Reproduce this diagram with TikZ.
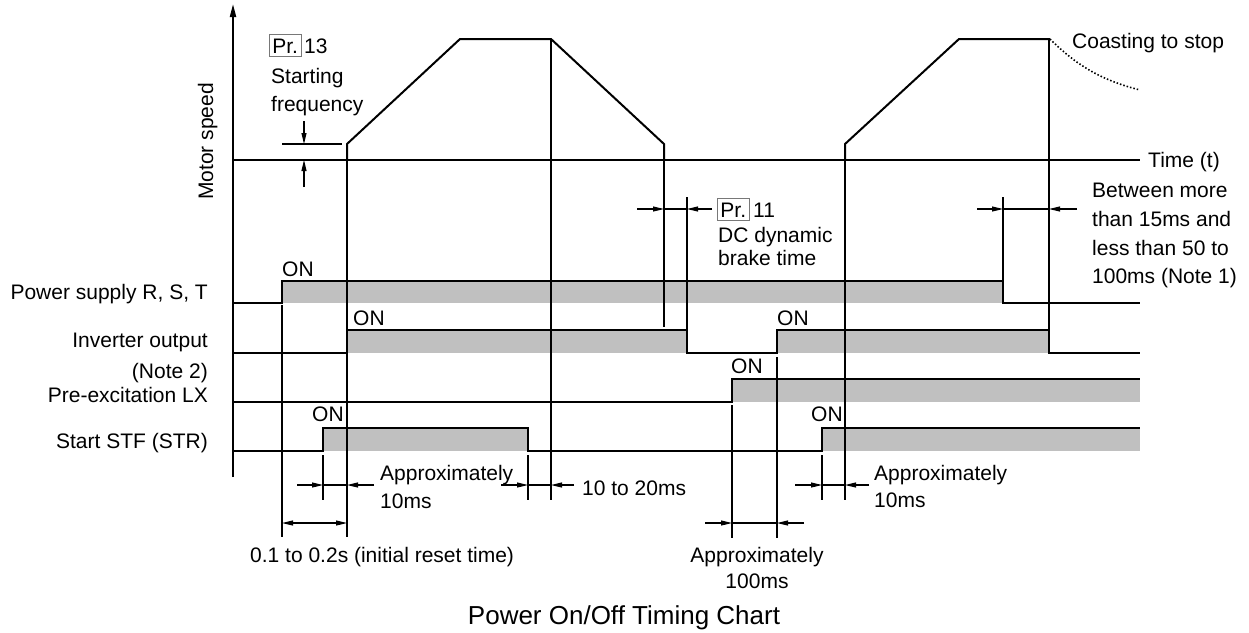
\documentclass[tikz,border=0pt]{standalone}
\usepackage{fontspec}
\setmainfont{Liberation Sans}
\usetikzlibrary{arrows.meta}
\definecolor{bargray}{RGB}{192,192,192}
\definecolor{boxgray}{RGB}{120,120,120}
\tikzset{
  sig/.style={line width=2pt, line join=miter},
  refline/.style={line width=1.1pt},
  dimarrow/.style={line width=1.1pt, -{Triangle[length=11pt,width=5pt]}},
  lbl/.style={font=\fontsize{21}{25}\selectfont, inner sep=0pt},
  ttl/.style={font=\fontsize{26}{30}\selectfont, inner sep=0pt},
  prbox/.style={lbl, draw=boxgray, line width=0.8pt, inner xsep=3pt, inner ysep=3.5pt, text height=15pt, text depth=0pt},
  coast/.style={line width=1.6pt, dash pattern=on 1.5pt off 2pt}
}
\begin{document}
\begin{tikzpicture}[x=1pt,y=-1pt]
\useasboundingbox (0,0) rectangle (1249,632);

% ---------- gray bars ----------
\fill[bargray] (282,281) rectangle (1003,303);
\fill[bargray] (347,330) rectangle (687,353);
\fill[bargray] (777,330) rectangle (1049,353);
\fill[bargray] (732,379) rectangle (1140,402);
\fill[bargray] (323,428) rectangle (528,451);
\fill[bargray] (822,428) rectangle (1140,451);

% ---------- reference (thin) lines ----------
\draw[refline] (282,305) -- (282,537);
\draw[refline] (347,160) -- (347,537);
\draw[refline] (323,455) -- (323,500);
\draw[refline] (528,455) -- (528,500);
\draw[refline] (551,40) -- (551,500);
\draw[refline] (664,160) -- (664,327);
\draw[refline] (687,197) -- (687,330);
\draw[refline] (732,405) -- (732,538);
\draw[refline] (777,357) -- (777,538);
\draw[refline] (822,455) -- (822,500);
\draw[refline] (845,160) -- (845,500);
\draw[refline] (1003,197) -- (1003,281);
\draw[refline] (1049,40) -- (1049,330);

% ---------- axes ----------
\draw[line width=2pt, -{Triangle[length=13pt,width=6pt]}] (233,477) -- (233,4);
\draw[sig] (233,160) -- (1140,160);
\node[lbl, anchor=base west] (timet) at (1148,167) {Time (t)};
\node[lbl, rotate=90, anchor=base] (mspeed) at (213,141.5) {Motor speed};

% ---------- speed profile ----------
\draw[sig] (347,160) -- (347,144) -- (460,39) -- (551,39) -- (664,144) -- (664,160);
\draw[sig] (845,160) -- (845,144) -- (959,39) -- (1050,39);
\draw[coast] (1050,39) .. controls (1075,64) and (1100,80) .. (1140,90);
\node[lbl, anchor=base west] (coasting) at (1072,48) {Coasting to stop};

% starting frequency
\draw[refline] (282,144) -- (342,144);
\draw[dimarrow] (304,121) -- (304,144);
\draw[dimarrow] (304,187) -- (304,160);
\node[prbox, anchor=base west] (pr13) at (269,53) {Pr.};
\node[lbl, anchor=base west] (n13) at (304,53) {13};
\node[lbl, anchor=base west] (starting) at (271,83) {Starting};
\node[lbl, anchor=base west] (frequency) at (271,111) {frequency};

% ---------- signals ----------
\draw[sig] (233,303) -- (282,303) -- (282,281) -- (1003,281) -- (1003,303) -- (1140,303);
\draw[sig] (233,353) -- (347,353) -- (347,330) -- (687,330) -- (687,353) -- (777,353) -- (777,330) -- (1049,330) -- (1049,353) -- (1140,353);
\draw[sig] (233,402) -- (732,402) -- (732,379) -- (1140,379);
\draw[sig] (233,451) -- (323,451) -- (323,428) -- (528,428) -- (528,451) -- (822,451) -- (822,428) -- (1140,428);

\node[lbl, anchor=base west] (on1) at (282,276) {ON};
\node[lbl, anchor=base west] (on2) at (353,325) {ON};
\node[lbl, anchor=base west] (on3) at (777,325) {ON};
\node[lbl, anchor=base west] (on4) at (731,373) {ON};
\node[lbl, anchor=base west] (on5) at (312,421) {ON};
\node[lbl, anchor=base west] (on6) at (811,421) {ON};

\node[lbl, anchor=base east] (lpower) at (208,299) {Power supply R, S, T};
\node[lbl, anchor=base east] (linv) at (208,347) {Inverter output};
\node[lbl, anchor=base east] (lnote2) at (208,378) {(Note 2)};
\node[lbl, anchor=base east] (lpre) at (208,402) {Pre-excitation LX};
\node[lbl, anchor=base east] (lstf) at (208,448) {Start STF (STR)};

% ---------- dimensions ----------
% Pr.11
\draw[refline] (664,209) -- (687,209);
\draw[dimarrow] (637,209) -- (664,209);
\draw[dimarrow] (712,209) -- (687,209);
\node[prbox, anchor=base west] (pr11) at (717,217) {Pr.};
\node[lbl, anchor=base west] (n11) at (753,217) {11};
\node[lbl, anchor=base west] (dcdyn) at (718,242) {DC dynamic};
\node[lbl, anchor=base west] (brake) at (718,265) {brake time};

% Note 1
\draw[refline] (1003,209) -- (1049,209);
\draw[dimarrow] (977,209) -- (1003,209);
\draw[dimarrow] (1077,209) -- (1049,209);
\node[lbl, anchor=base west] (bm1) at (1092,197) {Between more};
\node[lbl, anchor=base west] (bm2) at (1092,226) {than 15ms and};
\node[lbl, anchor=base west] (bm3) at (1092,255) {less than 50 to};
\node[lbl, anchor=base west] (bm4) at (1092,283) {100ms (Note 1)};

% approx 10ms (first)
\draw[refline] (323,485) -- (347,485);
\draw[dimarrow] (297,485) -- (323,485);
\draw[dimarrow] (374,485) -- (347,485);
\node[lbl, anchor=base west] (ap1) at (380,480) {Approximately};
\node[lbl, anchor=base west] (ap1b) at (380,508) {10ms};

% 10 to 20ms
\draw[refline] (528,485) -- (551,485);
\draw[dimarrow] (501,485) -- (528,485);
\draw[dimarrow] (574,485) -- (551,485);
\node[lbl, anchor=base west] (t1020) at (582,495) {10 to 20ms};

% 0.1 to 0.2 s
\draw[line width=1.1pt, {Triangle[length=11pt,width=5pt]}-{Triangle[length=11pt,width=5pt]}] (282,523) -- (347,523);
\node[lbl, anchor=base west] (reset) at (250,562) {0.1 to 0.2s (initial reset time)};

% approx 100ms
\draw[refline] (732,523) -- (777,523);
\draw[dimarrow] (705,523) -- (732,523);
\draw[dimarrow] (804,523) -- (777,523);
\node[lbl, anchor=base] (ap2) at (757,562) {Approximately};
\node[lbl, anchor=base] (ap2b) at (757,588) {100ms};

% approx 10ms (second)
\draw[refline] (822,485) -- (845,485);
\draw[dimarrow] (795,485) -- (822,485);
\draw[dimarrow] (869,485) -- (845,485);
\node[lbl, anchor=base west] (ap3) at (874,480) {Approximately};
\node[lbl, anchor=base west] (ap3b) at (874,507) {10ms};

% ---------- title ----------
\node[ttl, anchor=base] (title) at (624,624) {Power On/Off Timing Chart};
\end{tikzpicture}
\end{document}
